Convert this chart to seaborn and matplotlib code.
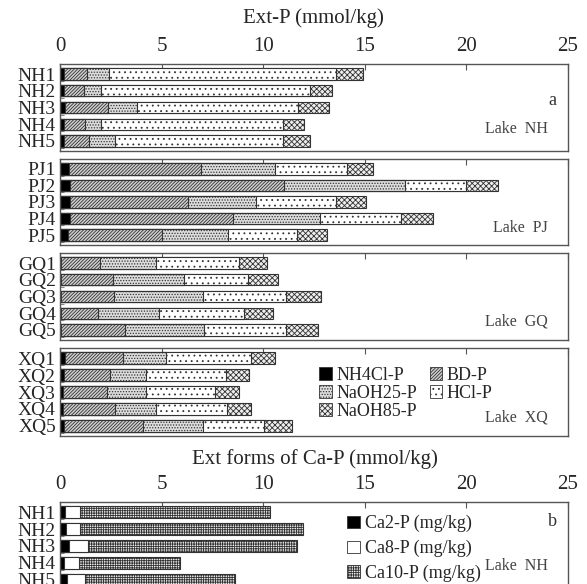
import numpy as np
import pandas as pd
import matplotlib
matplotlib.use("Agg")
import matplotlib.pyplot as plt
from matplotlib.patches import Patch
from matplotlib.ticker import FixedLocator
import seaborn as sns

sns.set_theme(style="white")
plt.rcParams["font.family"] = ["Liberation Serif", "DejaVu Serif"]
plt.rcParams["hatch.linewidth"] = 0.6
plt.rcParams["hatch.color"] = "#555555"

# ---- data: extracted P fractions (mmol/kg), segment widths per sample ----
samples = ["NH1", "NH2", "NH3", "NH4", "NH5",
           "PJ1", "PJ2", "PJ3", "PJ4", "PJ5",
           "GQ1", "GQ2", "GQ3", "GQ4", "GQ5",
           "XQ1", "XQ2", "XQ3", "XQ4", "XQ5"]
lakes = ["NH", "PJ", "GQ", "XQ"]

nh4cl_p = [0.20, 0.20, 0.25, 0.20, 0.20,
           0.45, 0.50, 0.50, 0.50, 0.40,
           0.05, 0.05, 0.05, 0.05, 0.05,
           0.25, 0.18, 0.15, 0.15, 0.22]
bd_p = [1.11, 1.00, 2.10, 1.03, 1.24,
        6.50, 10.50, 5.78, 8.02, 4.64,
        1.92, 2.55, 2.59, 1.81, 3.17,
        2.85, 2.26, 2.15, 2.57, 3.86]
naoh25_p = [1.09, 0.80, 1.45, 0.77, 1.25,
            3.65, 5.98, 3.35, 4.28, 3.23,
            2.74, 3.48, 4.39, 3.03, 3.86,
            2.14, 1.79, 1.91, 2.01, 2.95]
hcl_p = [11.20, 10.30, 7.90, 8.96, 8.29,
         3.50, 3.02, 3.95, 3.98, 3.40,
         4.11, 3.19, 4.11, 4.18, 4.05,
         4.15, 3.96, 3.42, 3.51, 2.99]
naoh85_p = [1.30, 1.10, 1.55, 1.04, 1.32,
            1.30, 1.55, 1.49, 1.56, 1.46,
            1.36, 1.44, 1.71, 1.41, 1.59,
            1.17, 1.11, 1.17, 1.16, 1.41]

# ---- data: Ca-bound P forms, Lake NH ----
ca_samples = ["NH1", "NH2", "NH3", "NH4", "NH5"]
ca2_p = [0.25, 0.30, 0.45, 0.22, 0.33]
ca8_p = [0.71, 0.66, 0.92, 0.70, 0.89]
ca10_p = [9.39, 10.99, 10.27, 4.98, 7.38]

x_ticks = [0, 5, 10, 15, 20, 25]

EDGE = "#333333"
FRAME = "#555555"
ext_styles = [
    ("NH4Cl-P", nh4cl_p, dict(facecolor="black", hatch=None)),
    ("BD-P", bd_p, dict(facecolor="#d0d0d0", hatch="//////////")),
    ("NaOH25-P", naoh25_p, dict(facecolor="#dcdcdc", hatch="......")),
    ("HCl-P", hcl_p, dict(facecolor="white", hatch="...")),
    ("NaOH85-P", naoh85_p, dict(facecolor="#eeeeee", hatch="xxxxxx")),
]
ca_styles = [
    ("Ca2-P (mg/kg)", ca2_p, dict(facecolor="black", hatch=None)),
    ("Ca8-P (mg/kg)", ca8_p, dict(facecolor="white", hatch=None)),
    ("Ca10-P (mg/kg)", ca10_p, dict(facecolor="#eeeeee", hatch="+++++++")),
]

W, H = 587, 584
fig = plt.figure(figsize=(W / 100, H / 100), dpi=100)


def axes_px(top, bottom, left=60, right=568):
    return fig.add_axes([left / W, 1 - bottom / H, (right - left) / W, (bottom - top) / H])


def stacked(ax, labels, styles):
    widths = np.vstack([s[1] for s in styles])
    cum = np.cumsum(widths, axis=0)
    # draw totals first, then each shorter partial sum on top
    for k in reversed(range(len(styles))):
        st = styles[k][2]
        df = pd.DataFrame({"sample": labels, "value": cum[k]})
        sns.barplot(data=df, x="value", y="sample", orient="h", ax=ax,
                    color=st["facecolor"], saturation=1, errorbar=None,
                    width=0.68, edgecolor=EDGE, linewidth=0.8,
                    hatch=st["hatch"])
    ax.set_xlim(0, 25)
    ax.set_ylim(len(labels) - 0.4, -0.6)
    ax.set_xlabel("")
    ax.set_ylabel("")
    for sp in ax.spines.values():
        sp.set_color(FRAME)
        sp.set_linewidth(1.0)
    ax.xaxis.set_ticks_position("top")
    ax.set_xticks(x_ticks)
    ax.tick_params(axis="x", direction="in", length=4, width=0.8, color=FRAME,
                   top=True, bottom=False, labeltop=False, labelbottom=False)
    ax.tick_params(axis="y", which="major", length=0, pad=3, labelsize=14)
    ax.yaxis.set_minor_locator(FixedLocator([i + 0.42 for i in range(len(labels))]))
    ax.tick_params(axis="y", which="minor", direction="in", length=3, width=0.8,
                   color="#888888", left=True)


LAKE_FONT = dict(fontsize=11.5, color="#444444",
                 family=["Liberation Serif", "DejaVu Serif"])

panels = [(64, 151), (159, 245), (253, 340), (348, 436)]
lake_txt_y = [0.253, 0.198, 0.207, 0.205]
axes = []
for i, (lake, (t, b)) in enumerate(zip(lakes, panels)):
    ax = axes_px(t, b)
    sl = slice(5 * i, 5 * i + 5)
    styles = [(n, v[sl], s) for n, v, s in ext_styles]
    stacked(ax, samples[sl], styles)
    ax.text(0.96, lake_txt_y[i], f"Lake  {lake}", transform=ax.transAxes,
            ha="right", va="center", **LAKE_FONT)
    axes.append(ax)

ax0 = axes[0]
ax0.tick_params(axis="x", labeltop=True, labelsize=15, pad=6)
ax0.text(0.97, 0.575, "a", transform=ax0.transAxes, ha="center", va="center",
         fontsize=13, color="#333333")

handles = [Patch(facecolor=s["facecolor"], hatch=s["hatch"], edgecolor=EDGE,
                 linewidth=0.6, label=n) for n, _, s in ext_styles]
order = [0, 2, 4, 1, 3]
axes[3].legend(handles=[handles[i] for i in order], loc="upper left",
               bbox_to_anchor=(0.485, 0.93), ncol=2, frameon=False,
               fontsize=13, handlelength=0.7, handleheight=0.7,
               handletextpad=0.25, labelspacing=0.05, columnspacing=0.7,
               borderpad=0.2)

fig.text(313 / W, 1 - 18 / H, "Ext-P (mmol/kg)", ha="center", va="center",
         fontsize=15)
fig.text(315 / W, 1 - 459 / H, "Ext forms of Ca-P (mmol/kg)", ha="center",
         va="center", fontsize=15)

axb = axes_px(502, 590)
stacked(axb, ca_samples, ca_styles)
axb.tick_params(axis="x", labeltop=True, labelsize=15, pad=6)
axb.text(0.97, 0.784, "b", transform=axb.transAxes, ha="center", va="center",
         fontsize=13, color="#333333")
axb.text(0.96, 0.27, "Lake  NH", transform=axb.transAxes, ha="right",
         va="center", **LAKE_FONT)
ca_handles = [Patch(facecolor=s["facecolor"], hatch=s["hatch"], edgecolor=EDGE,
                    linewidth=0.6, label=n) for n, _, s in ca_styles]
axb.legend(handles=ca_handles, loc="upper left", bbox_to_anchor=(0.54, 0.995),
           frameon=False, fontsize=13, handlelength=0.7, handleheight=0.7,
           handletextpad=0.3, labelspacing=0.42, borderpad=0.2)

fig.savefig("out.png", dpi=100)
